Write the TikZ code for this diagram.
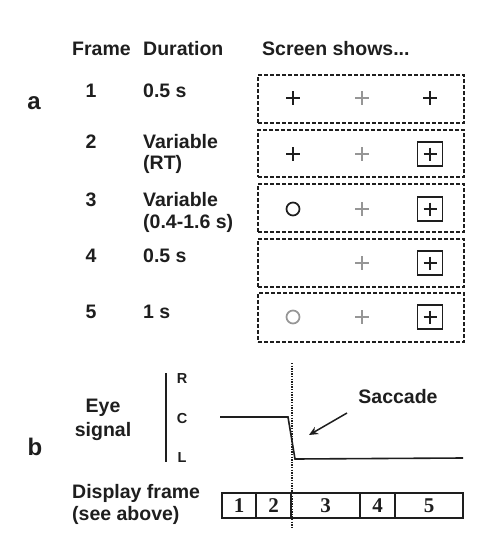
\documentclass[tikz,border=0pt]{standalone}
\usepackage{fontspec}
\setmainfont{Liberation Sans}
\newfontfamily\timesf{Liberation Serif}
\usetikzlibrary{arrows.meta}
\definecolor{symgray}{RGB}{150,150,150}
\definecolor{ink}{RGB}{30,30,30}
\begin{document}
\begin{tikzpicture}[x=1pt,y=-1pt,
  txt/.style={inner sep=0pt,text=ink,font=\fontsize{19.5}{23}\selectfont\bfseries},
  big/.style={inner sep=0pt,text=ink,font=\fontsize{24}{26}\selectfont\bfseries},
  axl/.style={inner sep=0pt,text=ink,font=\fontsize{14.5}{16}\selectfont\bfseries},
  cellnum/.style={inner sep=0pt,text=ink,font=\fontsize{21}{23}\timesf\bfseries},
  screenbox/.style={draw=ink,line width=1.4pt,dash pattern=on 4pt off 2pt,minimum width=206pt,inner sep=0pt},
  frcell/.style={draw=ink,line width=1.8pt,minimum height=25pt,inner sep=0pt},
  plusblack/.pic={\draw[ink,line width=1.6pt] (-7,0)--(7,0) (0,-7)--(0,7);},
  plusgray/.pic={\draw[symgray,line width=1.6pt] (-7,0)--(7,0) (0,-7)--(0,7);},
  plussq/.pic={\draw[ink,line width=1.7pt] (-6.5,0)--(6.5,0) (0,-6.5)--(0,6.5);
               \draw[ink,line width=1.8pt] (-12.5,-12) rectangle (12.5,12);},
  circblack/.pic={\draw[ink,line width=1.7pt] (0,0) circle (6.5);},
  circgray/.pic={\draw[symgray,line width=1.7pt] (0,0) circle (6.5);}
]
\useasboundingbox (0,0) rectangle (499,546);
\fill[white] (0,0) rectangle (499,546);

% headers
\node[txt,anchor=base west] (hframe) at (72,55) {Frame};
\node[txt,anchor=base west] (hdur) at (143,55) {Duration};
\node[txt,anchor=base west] (hscr) at (262,55) {Screen shows...};
\node[big] (la) at (34,103) {a};

% rows: frame numbers and durations
\node[txt,anchor=base] (f1) at (91,97) {1};
\node[txt,anchor=base west] (d1) at (143,97) {0.5 s};
\node[txt,anchor=base] (f2) at (91,148) {2};
\node[txt,anchor=base west] (d2a) at (143,148) {Variable};
\node[txt,anchor=base west] (d2b) at (143,169) {(RT)};
\node[txt,anchor=base] (f3) at (91,206) {3};
\node[txt,anchor=base west] (d3a) at (143,206) {Variable};
\node[txt,anchor=base west] (d3b) at (143,228) {(0.4-1.6 s)};
\node[txt,anchor=base] (f4) at (91,262) {4};
\node[txt,anchor=base west] (d4) at (143,262) {0.5 s};
\node[txt,anchor=base] (f5) at (91,318) {5};
\node[txt,anchor=base west] (d5) at (143,318) {1 s};

% screen boxes
\node[screenbox,minimum height=48pt] (s1) at (361,99) {};
\node[screenbox,minimum height=47pt] (s2) at (361,153.5) {};
\node[screenbox,minimum height=48pt] (s3) at (361,208) {};
\node[screenbox,minimum height=48pt] (s4) at (361,263) {};
\node[screenbox,minimum height=49pt] (s5) at (361,317.5) {};

% symbols
\pic at (293,98) {plusblack};
\pic at (362,98) {plusgray};
\pic at (430,98) {plusblack};

\pic at (293,154) {plusblack};
\pic at (362,154) {plusgray};
\pic at (430,154) {plussq};

\pic at (293,209) {circblack};
\pic at (362,209) {plusgray};
\pic at (430,209) {plussq};

\pic at (362,263) {plusgray};
\pic at (430,263) {plussq};

\pic at (293,317) {circgray};
\pic at (362,317) {plusgray};
\pic at (430,317) {plussq};

% panel b
\node[big] (lb) at (35,447) {b};
\node[txt,align=center,font=\fontsize{19.5}{24}\selectfont\bfseries] (eye) at (103,420) {Eye\\signal};
\coordinate (axtop) at (166,373);
\coordinate (axbot) at (166,462);
\draw[ink,line width=1.6pt] (axtop) -- (axbot);
\node[axl] (lR) at (182,379) {R};
\node[axl] (lC) at (182,419) {C};
\node[axl] (lL) at (182,458) {L};

\coordinate (sig0) at (220,417);
\coordinate (sig1) at (288,417);
\coordinate (sig2) at (295,459);
\coordinate (sig3) at (463,458);
\draw[ink,line width=1.6pt,line join=miter] (sig0) -- (sig1) -- (sig2) -- (sig3);

\coordinate (dtop) at (292,363);
\coordinate (dbot) at (292,527);
\draw[ink,line width=1.3pt,dash pattern=on 1.3pt off 1.3pt] (dtop) -- (dbot);

\node[txt] (sac) at (398,397) {Saccade};
\coordinate (arrS) at (347,413);
\coordinate (arrE) at (309,435);
\draw[ink,line width=1.5pt,-{Stealth[length=9pt,width=8pt]}] (arrS) -- (arrE);

\node[txt,anchor=base west] (disp1) at (72,498) {Display frame};
\node[txt,anchor=base west] (disp2) at (72,520) {(see above)};

% display frame cells
\node[frcell,minimum width=34pt] (c1) at (239,505.5) {};
\node[frcell,minimum width=35pt] (c2) at (273.5,505.5) {};
\node[frcell,minimum width=69pt] (c3) at (325.5,505.5) {};
\node[frcell,minimum width=35pt] (c4) at (377.5,505.5) {};
\node[frcell,minimum width=68pt] (c5) at (429,505.5) {};
\node[cellnum] at (c1) {1};
\node[cellnum] at (c2) {2};
\node[cellnum] at (c3) {3};
\node[cellnum] at (c4) {4};
\node[cellnum] at (c5) {5};
\end{tikzpicture}
\end{document}
